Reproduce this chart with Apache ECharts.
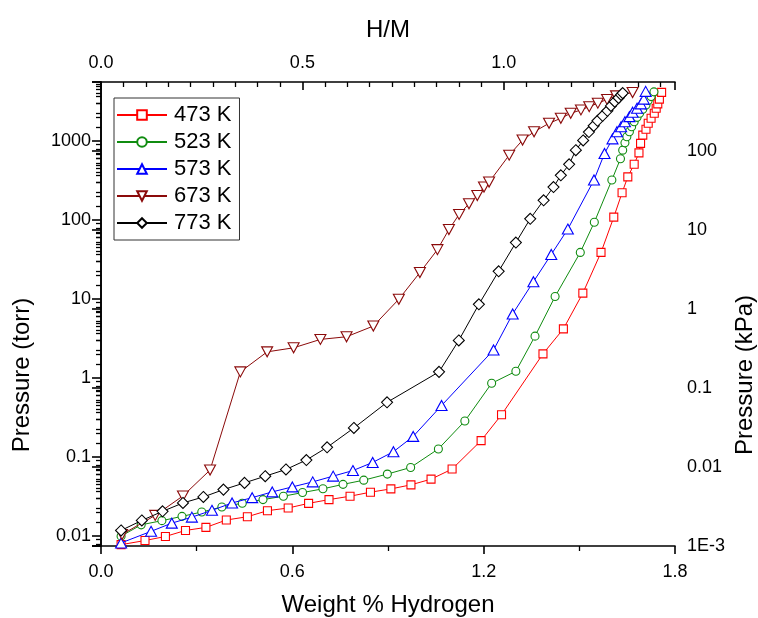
<!DOCTYPE html>
<html>
<head>
<meta charset="utf-8">
<script src="https://cdn.jsdelivr.net/npm/echarts@6/dist/echarts.min.js"></script>
<style>
html,body{margin:0;padding:0;background:#fff;overflow:hidden;}
#main{width:758px;height:618px;}
</style>
</head>
<body>
<div id="main"></div>
<script>
// 数据 (weight %, pressure torr)
var wt473 = [0.063,0.138,0.202,0.265,0.329,0.393,0.459,0.522,0.587,0.651,0.715,0.781,0.845,0.909,0.972,1.035,1.101,1.192,1.256,1.386,1.450,1.511,1.568,1.608,1.634,1.652,1.672,1.687,1.692,1.699,1.709,1.716,1.725,1.735,1.741,1.746,1.751,1.758];
var p473 = [0.0078,0.0088,0.0099,0.0118,0.0129,0.016,0.0176,0.021,0.0227,0.026,0.029,0.032,0.036,0.0396,0.0446,0.0526,0.0706,0.162,0.344,2.03,4.2,11.9,39,109,222,353,509,710,935,1190,1410,1680,1945,2250,2610,2960,3400,4140];

var wt523 = [0.063,0.126,0.191,0.254,0.316,0.379,0.443,0.508,0.572,0.632,0.696,0.759,0.824,0.898,0.971,1.058,1.141,1.225,1.301,1.361,1.424,1.503,1.547,1.602,1.629,1.636,1.643,1.649,1.657,1.664,1.672,1.681,1.689,1.699,1.709,1.716,1.725,1.734];
var p523 = [0.0100,0.0139,0.0157,0.0178,0.0202,0.0234,0.0261,0.029,0.032,0.0356,0.0397,0.0452,0.0511,0.061,0.074,0.127,0.286,0.86,1.22,3.4,10.8,39,94,322,599,768,950,1134,1313,1520,1760,2000,2250,2530,2870,3260,3660,4200];

var wt573 = [0.063,0.157,0.222,0.285,0.348,0.411,0.474,0.537,0.600,0.664,0.728,0.790,0.852,0.917,0.979,1.068,1.231,1.291,1.356,1.412,1.464,1.546,1.579,1.604,1.618,1.631,1.643,1.657,1.667,1.681,1.693,1.702,1.708];
var p573 = [0.0082,0.0115,0.0146,0.0174,0.0212,0.0263,0.0307,0.0363,0.042,0.0486,0.0575,0.0676,0.0857,0.117,0.183,0.45,2.27,6.5,16.6,36.8,77,322,698,1067,1313,1520,1760,2040,2320,2610,2960,3400,4260];

var wt673 = [0.066,0.170,0.257,0.342,0.437,0.521,0.604,0.688,0.770,0.854,0.934,1.000,1.055,1.091,1.123,1.154,1.180,1.201,1.217,1.280,1.322,1.358,1.405,1.442,1.473,1.505,1.531,1.558,1.587,1.615,1.667];
var p673 = [0.0105,0.0183,0.0323,0.0686,1.20,2.15,2.42,3.09,3.34,4.56,9.97,21.7,42.3,76,118,161,205,262,303,664,1030,1313,1680,1945,2250,2480,2730,3020,3370,3740,4120];

var wt773 = [0.063,0.128,0.193,0.257,0.321,0.384,0.450,0.515,0.580,0.644,0.709,0.793,0.897,1.060,1.122,1.185,1.247,1.301,1.346,1.388,1.419,1.442,1.468,1.489,1.512,1.530,1.545,1.557,1.573,1.588,1.599,1.611,1.623,1.631,1.636];
var p773 = [0.0118,0.0158,0.0206,0.0263,0.0313,0.0388,0.0472,0.0574,0.0698,0.0919,0.133,0.234,0.494,1.20,3.0,8.6,22.5,52,104,178,262,369,509,767,1020,1303,1560,1806,2093,2420,2790,3160,3520,3850,4050];

var names = ['473 K', '523 K', '573 K', '673 K', '773 K'];
var colors = ['#ff0000', '#108c10', '#0000ff', '#8b0a0a', '#000000'];
var symbols = ['rect', 'circle', 'triangle', 'path://M0,0 L10,0 L5,10 Z', 'diamond'];
var symSizes = [8, 8, [11, 10], [11, 10], 11];

var torrMin = 0.0075006, torrMax = 5600;   // 1E-3 kPa at bottom
var kpaPerTorr = 0.133322;
var hmPerWt = 1 / 1.263;

function zip(x, y) {
    var out = [];
    for (var i = 0; i < x.length; i++) out.push([x[i], y[i]]);
    return out;
}
var allData = [zip(wt473, p473), zip(wt523, p523), zip(wt573, p573), zip(wt673, p673), zip(wt773, p773)];

function decade(v) {
    var e = Math.log10(v);
    if (Math.abs(e - Math.round(e)) > 1e-6) return null;
    return Math.round(e);
}
function leftLabel(v) {
    var e = decade(v);
    if (e === null) return '';
    return e < 0 ? v.toFixed(-e) : String(Math.round(v));
}
function rightLabel(v) {
    var e = decade(v);
    if (e === null) return '';
    if (e <= -3) return '1E' + e;
    return e < 0 ? v.toFixed(-e) : String(Math.round(v));
}

var fontFam = '"Liberation Sans", Arial, sans-serif';
var axisLine = { show: true, lineStyle: { color: '#000', width: 1.6 } };
var majorTick = { color: '#000', width: 1.6 };
var minorTickStyle = { color: '#000', width: 1.3 };

var series = [];
for (var i = 0; i < names.length; i++) {
    series.push({
        name: names[i],
        type: 'line',
        xAxisIndex: 0,
        yAxisIndex: 0,
        data: allData[i],
        symbol: symbols[i],
        symbolSize: symSizes[i],
        color: colors[i],
        lineStyle: { color: colors[i], width: 1 },
        itemStyle: { color: '#fff', borderColor: colors[i], borderWidth: 1.1 },
        z: 2 + i
    });
}

var myChart = echarts.init(document.getElementById('main'));
var option = {
    backgroundColor: '#fff',
    animation: false,
    textStyle: { fontFamily: fontFam },
    grid: { left: 101, right: 83, top: 82, bottom: 72, containLabel: false, outerBoundsMode: 'none' },
    legend: {
        left: 114,
        top: 98,
        orient: 'vertical',
        padding: [6, 8, 6, 2],
        itemGap: 5,
        itemWidth: 50,
        itemHeight: 12,
        borderColor: '#333',
        borderWidth: 1,
        backgroundColor: '#fff',
        textStyle: { fontSize: 22, color: '#000', fontFamily: fontFam, padding: [0, 0, 0, 2] },
        data: names
    },
    graphic: [{
        type: 'text',
        x: 22, y: 375,
        rotation: Math.PI / 2,
        style: { text: 'Pressure (torr)', fontSize: 24, fontFamily: fontFam, fill: '#000', align: 'center', verticalAlign: 'middle' }
    }, {
        type: 'text',
        x: 745, y: 375,
        rotation: Math.PI / 2,
        style: { text: 'Pressure (kPa)', fontSize: 24, fontFamily: fontFam, fill: '#000', align: 'center', verticalAlign: 'middle' }
    }],
    xAxis: [{
        type: 'value',
        position: 'bottom',
        min: 0, max: 1.8, interval: 0.6,
        name: 'Weight % Hydrogen',
        nameLocation: 'middle',
        nameGap: 47,
        nameTextStyle: { fontSize: 24, color: '#000', fontFamily: fontFam },
        axisLine: axisLine,
        axisTick: { show: true, length: 8, lineStyle: majorTick },
        minorTick: { show: true, splitNumber: 2, length: 5, lineStyle: minorTickStyle },
        axisLabel: { fontSize: 18, color: '#000', margin: 17, formatter: function (v) { return v.toFixed(1); } },
        splitLine: { show: false }
    }, {
        type: 'value',
        position: 'top',
        min: 0, max: 1.8 * hmPerWt, interval: 0.5,
        name: 'H/M',
        nameLocation: 'middle',
        nameGap: 40,
        nameTextStyle: { fontSize: 24, color: '#000', fontFamily: fontFam },
        axisLine: axisLine,
        axisTick: { show: true, inside: true, length: 8, lineStyle: majorTick },
        minorTick: { show: true, splitNumber: 9, length: 5, lineStyle: minorTickStyle },
        axisLabel: { fontSize: 18, color: '#000', margin: 10, showMaxLabel: false, formatter: function (v) { return v.toFixed(1); } },
        splitLine: { show: false }
    }],
    yAxis: [{
        type: 'log',
        logBase: 10,
        position: 'left',
        min: torrMin, max: torrMax,
        axisLine: axisLine,
        axisTick: { show: true, length: 9, lineStyle: majorTick },
        minorTick: { show: true, splitNumber: 9, length: 5, lineStyle: minorTickStyle },
        axisLabel: { fontSize: 18, color: '#000', margin: 10, showMinLabel: false, showMaxLabel: false, formatter: leftLabel },
        splitLine: { show: false }
    }, {
        type: 'log',
        logBase: 10,
        position: 'right',
        min: torrMin * kpaPerTorr, max: torrMax * kpaPerTorr,
        axisLine: axisLine,
        axisTick: { show: true, inside: true, length: 9, lineStyle: majorTick },
        minorTick: { show: true, splitNumber: 9, length: 5, lineStyle: minorTickStyle },
        axisLabel: { fontSize: 18, color: '#000', margin: 12, showMaxLabel: false, formatter: rightLabel },
        splitLine: { show: false }
    }],
    series: series
};
myChart.setOption(option);
</script>
</body>
</html>
